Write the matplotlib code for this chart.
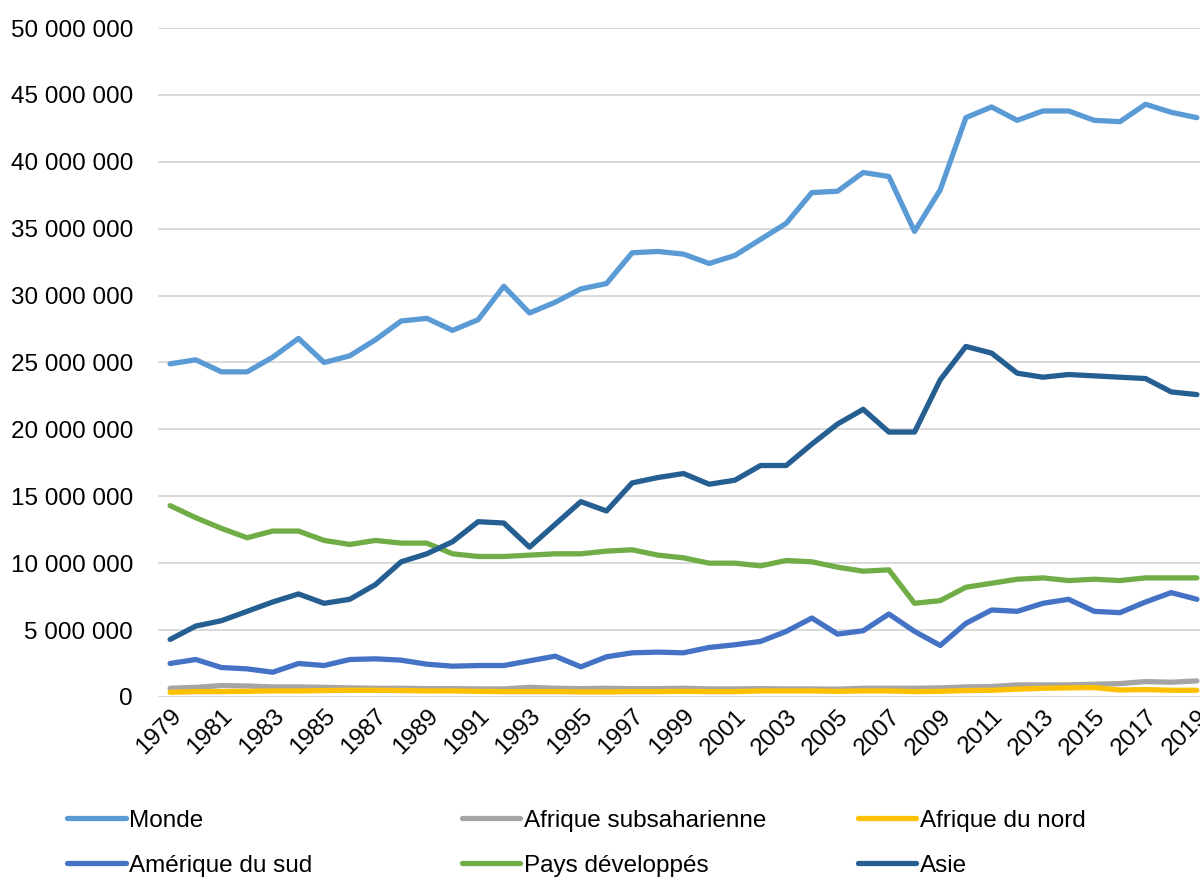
import matplotlib
matplotlib.use("Agg")
import matplotlib.pyplot as plt
from matplotlib.ticker import FuncFormatter, MultipleLocator

plt.rcParams["font.family"] = ["Liberation Sans", "DejaVu Sans"]

years = list(range(1979, 2020))

monde = [24.9, 25.2, 24.3, 24.3, 25.4, 26.8, 25.0, 25.5, 26.7, 28.1,
         28.3, 27.4, 28.2, 30.7, 28.7, 29.5, 30.5, 30.9, 33.2, 33.3,
         33.1, 32.4, 33.0, 34.2, 35.4, 37.7, 37.8, 39.2, 38.9, 34.8,
         37.9, 43.3, 44.1, 43.1, 43.8, 43.8, 43.1, 43.0, 44.3, 43.7,
         43.3]
afrique_subsaharienne = [0.65, 0.72, 0.85, 0.82, 0.75, 0.75, 0.72, 0.68, 0.65, 0.65,
                         0.62, 0.62, 0.60, 0.60, 0.72, 0.65, 0.62, 0.65, 0.62, 0.62,
                         0.65, 0.60, 0.60, 0.62, 0.60, 0.60, 0.58, 0.65, 0.65, 0.65,
                         0.68, 0.75, 0.78, 0.90, 0.90, 0.90, 0.95, 1.00, 1.15, 1.10,
                         1.20]
afrique_nord = [0.35, 0.40, 0.40, 0.42, 0.45, 0.45, 0.48, 0.50, 0.50, 0.48,
                0.45, 0.45, 0.42, 0.40, 0.40, 0.40, 0.38, 0.38, 0.40, 0.40,
                0.42, 0.40, 0.40, 0.45, 0.45, 0.45, 0.42, 0.45, 0.45, 0.40,
                0.42, 0.48, 0.50, 0.58, 0.65, 0.68, 0.70, 0.52, 0.55, 0.50,
                0.50]
amerique_sud = [2.5, 2.8, 2.2, 2.1, 1.85, 2.5, 2.35, 2.8, 2.85, 2.75,
                2.45, 2.3, 2.35, 2.35, 2.7, 3.05, 2.25, 3.0, 3.3, 3.35,
                3.3, 3.7, 3.9, 4.15, 4.9, 5.9, 4.7, 4.95, 6.2, 4.9,
                3.85, 5.5, 6.5, 6.4, 7.0, 7.3, 6.4, 6.3, 7.1, 7.8,
                7.3]
pays_developpes = [14.3, 13.4, 12.6, 11.9, 12.4, 12.4, 11.7, 11.4, 11.7, 11.5,
                   11.5, 10.7, 10.5, 10.5, 10.6, 10.7, 10.7, 10.9, 11.0, 10.6,
                   10.4, 10.0, 10.0, 9.8, 10.2, 10.1, 9.7, 9.4, 9.5, 7.0,
                   7.2, 8.2, 8.5, 8.8, 8.9, 8.7, 8.8, 8.7, 8.9, 8.9,
                   8.9]
asie = [4.3, 5.3, 5.7, 6.4, 7.1, 7.7, 7.0, 7.3, 8.4, 10.1,
        10.7, 11.6, 13.1, 13.0, 11.2, 12.9, 14.6, 13.9, 16.0, 16.4,
        16.7, 15.9, 16.2, 17.3, 17.3, 18.9, 20.4, 21.5, 19.8, 19.8,
        23.7, 26.2, 25.7, 24.2, 23.9, 24.1, 24.0, 23.9, 23.8, 22.8,
        22.6]

series = [
    ("Monde", monde, "#5B9BD5"),
    ("Afrique subsaharienne", afrique_subsaharienne, "#A5A5A5"),
    ("Afrique du nord", afrique_nord, "#FFC000"),
    ("Amérique du sud", amerique_sud, "#4472C4"),
    ("Pays développés", pays_developpes, "#70AD47"),
    ("Asie", asie, "#255E91"),
]

FS = 17.5

fig = plt.figure(figsize=(12, 8.81), dpi=100)
ax = fig.add_axes([0.1317, 0.2089, 0.8683, 0.7593])

handles = {}
for name, vals, col in series:
    (ln,) = ax.plot(years, [v * 1e6 for v in vals], color=col, lw=3.8,
                    solid_capstyle="round", solid_joinstyle="round", label=name)
    handles[name] = ln

ax.set_xlim(1978.53, 2019.12)
ax.set_ylim(0, 50e6)
ax.yaxis.set_major_locator(MultipleLocator(5e6))
ax.yaxis.set_major_formatter(FuncFormatter(lambda v, _: f"{int(round(v)):,}".replace(",", " ")))
ax.set_xticks(years[::2])
ax.set_xticklabels([str(y) for y in years[::2]], rotation=45, ha="right",
                   rotation_mode="anchor")
ax.tick_params(axis="both", length=0, labelsize=FS, colors="black")
ax.tick_params(axis="y", pad=18)
ax.tick_params(axis="x", pad=6)
ax.grid(axis="y", color="#d9d9d9", lw=1.4)
ax.set_axisbelow(True)
for s in ax.spines.values():
    s.set_visible(False)

cols = [("Monde", "Amérique du sud", 0.056),
        ("Afrique subsaharienne", "Pays développés", 0.385),
        ("Afrique du nord", "Asie", 0.715)]
for a, b, x in cols:
    fig.legend([handles[a], handles[b]], [a, b], loc="upper left",
               bbox_to_anchor=(x, 0.081), frameon=False, fontsize=FS,
               borderpad=0, borderaxespad=0, handlelength=2.4,
               handletextpad=0.15, labelspacing=0.95)

fig.savefig("out.png", dpi=100)
